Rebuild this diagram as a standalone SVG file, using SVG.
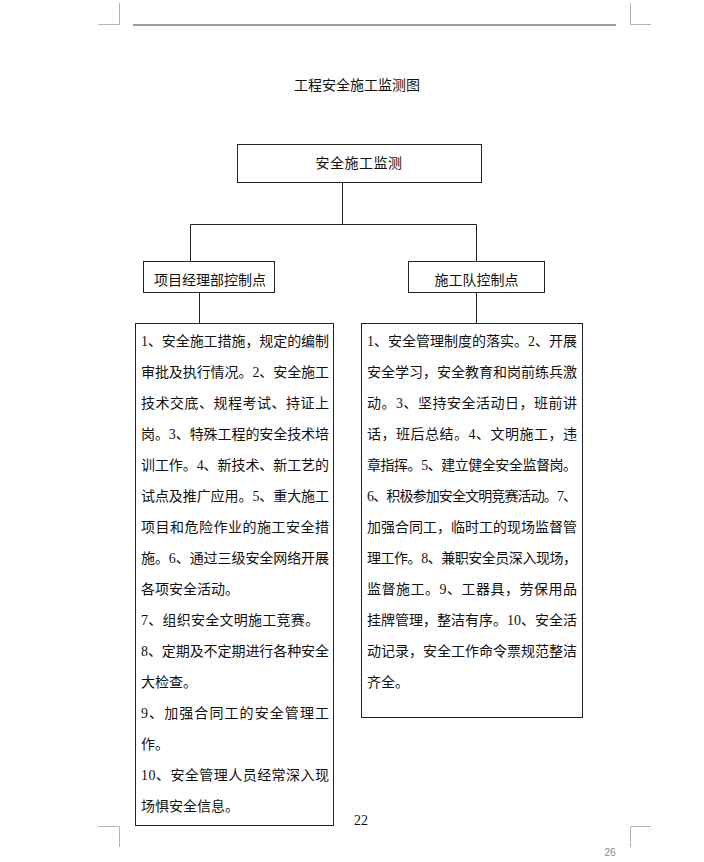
<svg xmlns="http://www.w3.org/2000/svg" width="704" height="862" viewBox="0 0 704 862">
<style>
.t{font-family:"Liberation Serif","Noto Sans CJK SC",serif;font-size:14px;fill:#111}
.c{text-anchor:middle}
.box{fill:#fff;stroke:#222;stroke-width:1}
.ln{stroke:#222;stroke-width:1;fill:none}
.mk{stroke:#b4b4b4;stroke-width:1;fill:none}
</style>
<rect x="0" y="0" width="704" height="862" fill="#fff"/>
<g id="page-marks">
<path class="mk" d="M119.5 3V24.5H98M630.5 3V24.5H651M119.5 847V826.5H98M630.5 847V826.5H651"/>
<line x1="133" y1="25" x2="616" y2="25" stroke="#7a7a7a" stroke-width="1.5"/>
<text x="610" y="856" font-family="Liberation Sans,sans-serif" font-size="10" fill="#8a8a8a" text-anchor="middle">26</text>
<text class="t c" x="361" y="825">22</text>
</g>
<text id="title" class="t c" x="357" y="90">工程安全施工监测图</text>
<g id="connectors">
<path class="ln" d="M342.5 182V224.5M190.5 261V224.5H476.5V261M199.5 292V323M476.5 292V323"/>
</g>
<g id="root">
<rect class="box" x="237.5" y="144.5" width="244" height="38"/>
<text class="t c" x="359" y="168" letter-spacing="0.5">安全施工监测</text>
</g>
<g id="n-left">
<rect class="box" x="143.5" y="261.5" width="131" height="31"/>
<text class="t c" x="210" y="285">项目经理部控制点</text>
</g>
<g id="n-right">
<rect class="box" x="408.5" y="261.5" width="136" height="31"/>
<text class="t c" x="476.5" y="285">施工队控制点</text>
</g>
<g id="detail-left">
<rect class="box" x="135.5" y="323.5" width="198" height="502"/>
<text class="t" x="141" y="346" textLength="188" lengthAdjust="spacing">1、安全施工措施，规定的编制</text>
<text class="t" x="141" y="377" textLength="188" lengthAdjust="spacing">审批及执行情况。2、安全施工</text>
<text class="t" x="141" y="408" textLength="188" lengthAdjust="spacing">技术交底、规程考试、持证上</text>
<text class="t" x="141" y="439" textLength="188" lengthAdjust="spacing">岗。3、特殊工程的安全技术培</text>
<text class="t" x="141" y="470" textLength="188" lengthAdjust="spacing">训工作。4、新技术、新工艺的</text>
<text class="t" x="141" y="501" textLength="188" lengthAdjust="spacing">试点及推广应用。5、重大施工</text>
<text class="t" x="141" y="532" textLength="188" lengthAdjust="spacing">项目和危险作业的施工安全措</text>
<text class="t" x="141" y="563" textLength="188" lengthAdjust="spacing">施。6、通过三级安全网络开展</text>
<text class="t" x="141" y="594">各项安全活动。</text>
<text class="t" x="141" y="625" textLength="178" lengthAdjust="spacing">7、组织安全文明施工竞赛。</text>
<text class="t" x="141" y="656" textLength="188" lengthAdjust="spacing">8、定期及不定期进行各种安全</text>
<text class="t" x="141" y="687">大检查。</text>
<text class="t" x="141" y="718" textLength="188" lengthAdjust="spacing">9、加强合同工的安全管理工</text>
<text class="t" x="141" y="749">作。</text>
<text class="t" x="141" y="780" textLength="188" lengthAdjust="spacing">10、安全管理人员经常深入现</text>
<text class="t" x="141" y="811">场惧安全信息。</text>
</g>
<g id="detail-right">
<rect class="box" x="361.5" y="323.5" width="221" height="394"/>
<text class="t" x="367" y="346" textLength="210" lengthAdjust="spacing">1、安全管理制度的落实。2、开展</text>
<text class="t" x="367" y="377" textLength="210" lengthAdjust="spacing">安全学习，安全教育和岗前练兵激</text>
<text class="t" x="367" y="408" textLength="210" lengthAdjust="spacing">动。3、坚持安全活动日，班前讲</text>
<text class="t" x="367" y="439" textLength="210" lengthAdjust="spacing">话，班后总结。4、文明施工，违</text>
<text class="t" x="367" y="470" textLength="210" lengthAdjust="spacing">章指挥。5、建立健全安全监督岗。</text>
<text class="t" x="367" y="501" textLength="210" lengthAdjust="spacing">6、积极参加安全文明竞赛活动。7、</text>
<text class="t" x="367" y="532" textLength="210" lengthAdjust="spacing">加强合同工，临时工的现场监督管</text>
<text class="t" x="367" y="563" textLength="210" lengthAdjust="spacing">理工作。8、兼职安全员深入现场，</text>
<text class="t" x="367" y="594" textLength="210" lengthAdjust="spacing">监督施工。9、工器具，劳保用品</text>
<text class="t" x="367" y="625" textLength="210" lengthAdjust="spacing">挂牌管理，整洁有序。10、安全活</text>
<text class="t" x="367" y="656" textLength="210" lengthAdjust="spacing">动记录，安全工作命令票规范整洁</text>
<text class="t" x="367" y="687">齐全。</text>
</g>
</svg>
